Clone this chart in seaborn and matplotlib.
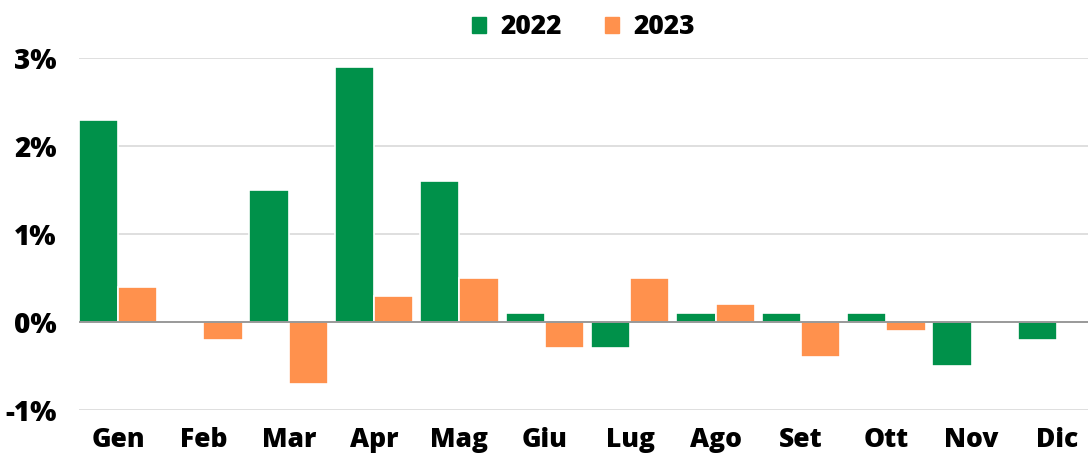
import numpy as np
import pandas as pd
import matplotlib
matplotlib.use('Agg')
import matplotlib.pyplot as plt
from matplotlib.patches import Patch
import seaborn as sns

months = ["Gen", "Feb", "Mar", "Apr", "Mag", "Giu", "Lug", "Ago", "Set", "Ott", "Nov", "Dic"]
vals_2022 = [2.3, 0.0, 1.5, 2.9, 1.6, 0.1, -0.3, 0.1, 0.1, 0.1, -0.5, -0.2]
vals_2023 = [0.4, -0.2, -0.7, 0.3, 0.5, -0.3, 0.5, 0.2, -0.4, -0.1, np.nan, np.nan]
years = ["2022", "2023"]
colors = ["#00914A", "#FF914D"]
yticks = [-1, 0, 1, 2, 3]

df = pd.DataFrame({
    "month": months * 2,
    "year": [years[0]] * 12 + [years[1]] * 12,
    "value": vals_2022 + vals_2023,
})

sns.set_theme(style="white")
plt.rcParams['font.family'] = ['Open Sans', 'DejaVu Sans']
plt.rcParams['text.color'] = 'black'
plt.rcParams['xtick.color'] = 'black'
plt.rcParams['ytick.color'] = 'black'

fig = plt.figure(figsize=(10.88, 4.53), dpi=100)
ax = fig.add_axes([0.0726, 0.095, 0.9274, 0.777])

sns.barplot(data=df, x="month", y="value", hue="year", palette=colors, saturation=1,
            width=0.92, edgecolor="white", linewidth=1.2, ax=ax, legend=False,
            zorder=3)

ax.set_ylim(-1, 3)
ax.set_xlim(-0.457, 11.363)
ax.set_yticks(yticks)
ax.set_yticklabels([f"{t}%" for t in yticks])
for t in yticks:
    if t != 0:
        ax.axhline(t, color="#d9d9d9", lw=1.2, zorder=1)
ax.axhline(0, color="#888888", lw=1.2, zorder=4)

for s in ax.spines.values():
    s.set_visible(False)
ax.set_xlabel("")
ax.set_ylabel("")
ax.tick_params(axis="y", length=0, pad=16, labelsize=20)
ax.tick_params(axis="x", length=0, pad=12, labelsize=19)
for lbl in ax.get_xticklabels() + ax.get_yticklabels():
    lbl.set_fontweight("heavy")

handles = [Patch(color=c, label=y) for c, y in zip(colors, years)]
leg = ax.legend(handles=handles, loc="center", bbox_to_anchor=(0.5, 1.088), ncol=2,
                frameon=False, handlelength=0.55, handleheight=0.55, columnspacing=1.6,
                handletextpad=0.55, prop={"weight": "heavy", "size": 19})

fig.savefig("out.png", dpi=100)
